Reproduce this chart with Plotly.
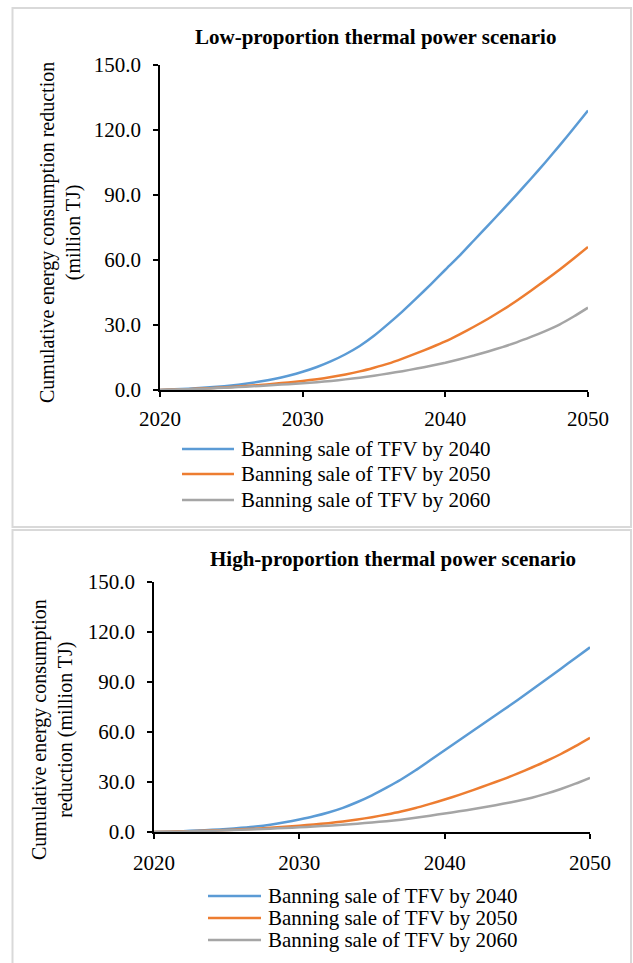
import plotly.graph_objects as go

# ---------------- data ----------------
years = list(range(2020, 2051))
series_names = ["Banning sale of TFV by 2040",
                "Banning sale of TFV by 2050",
                "Banning sale of TFV by 2060"]
panel_titles = ["Low-proportion thermal power scenario",
                "High-proportion thermal power scenario"]
y_titles = ["Cumulative energy consumption reduction<br>(million TJ)",
            "Cumulative energy consumption<br>reduction (million TJ)"]
y_ticks = [0, 30, 60, 90, 120, 150]
x_ticks = [2020, 2030, 2040, 2050]

low_2040 = [0.0, 0.3, 0.6, 1.0, 1.5, 2.1, 2.9, 3.9, 5.1, 6.6, 8.4, 10.6, 13.3, 16.5, 20.3, 25.0,
            30.5, 36.3, 42.5, 48.9, 55.5, 62.0, 69.0, 76.0, 83.0, 90.2, 97.5, 105.0, 112.8, 120.8, 129.0]
low_2050 = [0.0, 0.2, 0.4, 0.7, 1.0, 1.4, 1.8, 2.3, 2.9, 3.5, 4.2, 5.0, 6.0, 7.2, 8.6, 10.3,
            12.2, 14.5, 17.0, 19.6, 22.4, 25.7, 29.2, 32.9, 36.9, 41.2, 45.8, 50.6, 55.5, 60.7, 66.0]
low_2060 = [0.0, 0.2, 0.4, 0.6, 0.9, 1.2, 1.5, 1.9, 2.3, 2.7, 3.1, 3.6, 4.2, 4.9, 5.7, 6.6,
            7.6, 8.7, 9.9, 11.2, 12.6, 14.2, 15.9, 17.8, 19.8, 22.0, 24.5, 27.2, 30.2, 33.9, 38.0]

high_2040 = [0.0, 0.2, 0.5, 0.9, 1.3, 1.8, 2.5, 3.3, 4.4, 5.8, 7.5, 9.4, 11.7, 14.5, 18.0, 22.0,
             26.6, 31.5, 37.0, 43.0, 49.0, 55.0, 61.0, 67.0, 73.0, 79.0, 85.3, 91.6, 98.0, 104.4, 110.8]
high_2050 = [0.0, 0.2, 0.4, 0.6, 0.9, 1.2, 1.6, 2.0, 2.5, 3.1, 3.8, 4.5, 5.3, 6.3, 7.5, 8.9,
             10.5, 12.3, 14.4, 16.9, 19.5, 22.3, 25.3, 28.4, 31.6, 35.0, 38.7, 42.6, 46.8, 51.5, 56.5]
high_2060 = [0.0, 0.1, 0.3, 0.5, 0.7, 1.0, 1.3, 1.6, 2.0, 2.4, 2.8, 3.3, 3.8, 4.4, 5.0, 5.7,
             6.5, 7.4, 8.5, 9.8, 11.1, 12.4, 13.8, 15.3, 16.9, 18.6, 20.6, 23.0, 25.8, 29.0, 32.5]

# ---------------- style ----------------
W, H = 633, 963
colors = ["#5B9BD5", "#ED7D31", "#A5A5A5"]
FONT = "Liberation Serif, Times New Roman, serif"


def px(x):
    return x / W


def py(y):
    return 1 - y / H


fig = go.Figure()

panels = [
    dict(series=[low_2040, low_2050, low_2060], xa="x", ya="y"),
    dict(series=[high_2040, high_2050, high_2060], xa="x2", ya="y2"),
]
for p in panels:
    for name, vals, c in zip(series_names, p["series"], colors):
        fig.add_trace(go.Scatter(x=years, y=vals, name=name, mode="lines",
                                 line=dict(color=c, width=2.5, shape="spline", smoothing=0.6),
                                 xaxis=p["xa"], yaxis=p["ya"], showlegend=False,
                                 hoverinfo="skip", cliponaxis=False))

axis_common = dict(showgrid=False, zeroline=False, showline=True, linecolor="black",
                   linewidth=1.5, ticks="outside", ticklen=5, tickwidth=1.5,
                   tickcolor="black", automargin=False,
                   tickfont=dict(family=FONT, size=21, color="black"))

fig.update_layout(
    width=W, height=H,
    margin=dict(l=0, r=0, t=0, b=0, pad=0, autoexpand=False),
    paper_bgcolor="white", plot_bgcolor="white",
    font=dict(family=FONT, color="black"),
    showlegend=False,
    xaxis=dict(domain=[px(160), px(588)], range=[2020, 2050], tickvals=x_ticks,
               tickformat="d", anchor="y", ticklabelstandoff=4, **axis_common),
    yaxis=dict(domain=[py(390), py(65)], range=[0, 150], tickvals=y_ticks,
               tickformat=".1f", anchor="x", ticklabelstandoff=8, **axis_common),
    xaxis2=dict(domain=[px(154), px(590)], range=[2020, 2050], tickvals=x_ticks,
                tickformat="d", anchor="y2", ticklabelstandoff=6, **axis_common),
    yaxis2=dict(domain=[py(832), py(582)], range=[0, 150], tickvals=y_ticks,
                tickformat=".1f", anchor="x2", ticklabelstandoff=8, **axis_common),
)

shapes = []
annotations = []

# panel borders
for (y0, y1) in [(8, 527), (530, 968)]:
    shapes.append(dict(type="rect", xref="paper", yref="paper",
                       x0=px(12.5), x1=px(631), y0=py(y1), y1=py(y0),
                       line=dict(color="#d9d9d9", width=2), fillcolor="rgba(0,0,0,0)",
                       layer="below"))

# titles
for t, (cx, cy) in zip(panel_titles, [(375, 37), (393, 559)]):
    annotations.append(dict(text="<b>%s</b>" % t, xref="paper", yref="paper",
                            x=px(cx), y=py(cy), xanchor="center", yanchor="middle",
                            showarrow=False, font=dict(family=FONT, size=21, color="black")))

# y-axis titles
for t, (cx, cy) in zip(y_titles, [(60, 233), (52, 730)]):
    annotations.append(dict(text=t, xref="paper", yref="paper", x=px(cx), y=py(cy),
                            xanchor="center", yanchor="middle", textangle=-90,
                            showarrow=False, font=dict(family=FONT, size=20, color="black")))

# legends
legend_specs = [dict(x0=182, x1=234, xt=239, ys=[449, 474, 500]),
                dict(x0=208, x1=261, xt=266, ys=[896, 918, 940])]
for spec in legend_specs:
    for name, c, yy in zip(series_names, colors, spec["ys"]):
        shapes.append(dict(type="line", xref="paper", yref="paper",
                           x0=px(spec["x0"]), x1=px(spec["x1"]), y0=py(yy), y1=py(yy),
                           line=dict(color=c, width=2.5)))
        annotations.append(dict(text=name, xref="paper", yref="paper",
                                x=px(spec["xt"]), y=py(yy), xanchor="left", yanchor="middle",
                                showarrow=False,
                                font=dict(family=FONT, size=21, color="black")))

fig.update_layout(shapes=shapes, annotations=annotations)

fig.write_html("out.html")
